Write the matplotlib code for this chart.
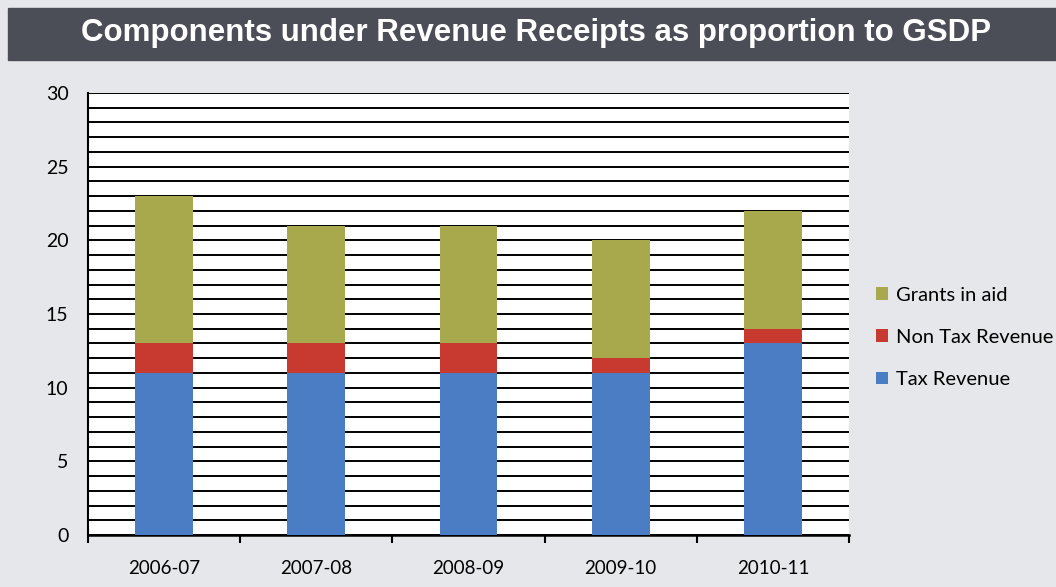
import matplotlib.pyplot as plt
from matplotlib.patches import Rectangle
import numpy as np

years = ["2006-07", "2007-08", "2008-09", "2009-10", "2010-11"]
tax_revenue = [11, 11, 11, 11, 13]
non_tax_revenue = [2, 2, 2, 1, 1]
grants_in_aid = [10, 8, 8, 8, 8]

colors = {"Tax Revenue": "#4A7DC4",
          "Non Tax Revenue": "#C8392F",
          "Grants in aid": "#A8A84C"}

plt.rcParams["font.family"] = ["Lato", "DejaVu Sans"]

fig = plt.figure(figsize=(10.56, 5.87), dpi=100, facecolor="#E6E7EB")

# dark title band
fig.patches.append(Rectangle((8 / 1056, 1 - 60 / 587), 1, 52 / 587,
                             transform=fig.transFigure, color="#4B4E57", zorder=0))
fig.text(0.508, 1 - 33 / 587, "Components under Revenue Receipts as proportion to GSDP",
         ha="center", va="center", color="white", fontsize=22.5, fontweight="bold",
         family="Liberation Sans")

ax = fig.add_axes([88 / 1056, 52 / 587, 761 / 1056, 442 / 587])
ax.set_facecolor("white")

x = np.arange(len(years))
w = 0.38
bottom2 = np.array(tax_revenue) + np.array(non_tax_revenue)
ax.bar(x, tax_revenue, w, color=colors["Tax Revenue"], label="Tax Revenue", zorder=3)
ax.bar(x, non_tax_revenue, w, bottom=tax_revenue, color=colors["Non Tax Revenue"],
       label="Non Tax Revenue", zorder=3)
ax.bar(x, grants_in_aid, w, bottom=bottom2, color=colors["Grants in aid"],
       label="Grants in aid", zorder=3)

ax.set_xlim(-0.5, len(years) - 0.5)
ax.set_ylim(0, 30)
ax.set_yticks(range(0, 31, 5))
ax.set_yticks(range(0, 31), minor=True)
ax.grid(axis="y", which="both", color="black", linewidth=1.4, zorder=1)
ax.tick_params(axis="y", which="both", length=0, labelsize=14, pad=14)

ax.set_xticks(x)
ax.set_xticklabels(years, fontsize=13.5)
ax.set_xticks(np.arange(-0.5, len(years)), minor=True)
ax.tick_params(axis="x", which="major", length=0, pad=18)
ax.tick_params(axis="x", which="minor", length=6, width=1.5, direction="out")

ax.spines["right"].set_visible(False)
ax.spines["top"].set_visible(False)
ax.spines["left"].set_linewidth(1.5)
ax.spines["bottom"].set_linewidth(1.8)

handles, labels = ax.get_legend_handles_labels()
leg = ax.legend(handles[::-1], labels[::-1], loc="center left",
                bbox_to_anchor=(1.025, 0.447), frameon=False, fontsize=14.5,
                handlelength=0.6, handleheight=0.6, handletextpad=0.4,
                labelspacing=1.25, borderaxespad=0.0)

fig.savefig("out.png", dpi=100, facecolor=fig.get_facecolor())
